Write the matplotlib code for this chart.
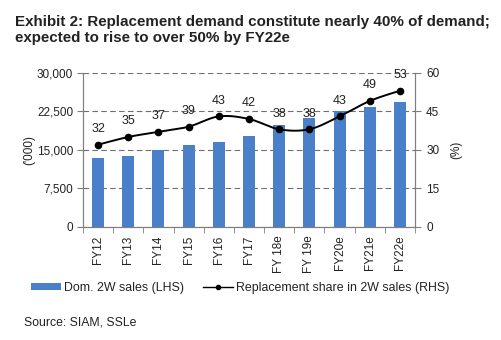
import numpy as np
import matplotlib
matplotlib.use("Agg")
import matplotlib.pyplot as plt
from matplotlib.lines import Line2D
from matplotlib.patches import Patch

plt.rcParams['font.family'] = ['Liberation Sans', 'DejaVu Sans']

categories = ["FY12", "FY13", "FY14", "FY15", "FY16", "FY17",
              "FY 18e", "FY 19e", "FY20e", "FY21e", "FY22e"]
dom_2w_sales = [13450, 13800, 14900, 16000, 16450, 17600,
                19800, 21100, 22500, 23400, 24300]
replacement_share = [32, 35, 37, 39, 43, 42, 38, 38, 43, 49, 53]

left_ticks = [0, 7500, 15000, 22500, 30000]
right_ticks = [0, 15, 30, 45, 60]

BAR_COLOR = "#4a7fca"
AXIS_COLOR = "#7f7f7f"
TEXT_COLOR = "#222222"


def smooth_curve(xs, ys, steps=30):
    """Bezier smoothing through points (spreadsheet-style smoothed line)."""
    xs = np.asarray(xs, float)
    ys = np.asarray(ys, float)
    px = np.concatenate([[xs[0]], xs, [xs[-1]]])
    py = np.concatenate([[ys[0]], ys, [ys[-1]]])
    out_x, out_y = [], []
    t = np.linspace(0, 1, steps)
    for i in range(1, len(px) - 2):
        p0 = np.array([px[i], py[i]])
        p3 = np.array([px[i + 1], py[i + 1]])
        p1 = p0 + (np.array([px[i + 1], py[i + 1]]) - np.array([px[i - 1], py[i - 1]])) / 6
        p2 = p3 - (np.array([px[i + 2], py[i + 2]]) - np.array([px[i], py[i]])) / 6
        b = ((1 - t) ** 3)[:, None] * p0 + (3 * (1 - t) ** 2 * t)[:, None] * p1 \
            + (3 * (1 - t) * t ** 2)[:, None] * p2 + (t ** 3)[:, None] * p3
        out_x.extend(b[:, 0])
        out_y.extend(b[:, 1])
    return np.array(out_x), np.array(out_y)


fig = plt.figure(figsize=(5.02, 3.40), dpi=100)
ax = fig.add_axes([0.1653, 0.3324, 0.6614, 0.4538])
ax2 = ax.twinx()

x = np.arange(len(categories))
ax.bar(x, dom_2w_sales, width=0.4, color=BAR_COLOR, zorder=2)
ax.set_xlim(-0.5, len(categories) - 0.5)
ax.set_ylim(0, 30000)
ax.set_yticks(left_ticks)
ax.set_yticklabels([f"{v:,}" for v in left_ticks])
ax.yaxis.grid(True, color="#6f6f6f", linestyle=(0, (5, 3)), linewidth=0.8, zorder=0)
ax.set_axisbelow(True)

ax.set_xticks(x)
ax.set_xticklabels(categories, rotation=90, va="top", ha="center")
ax.set_xticks(np.arange(-0.5, len(categories)), minor=True)
ax.tick_params(axis="x", which="major", length=0, pad=6, labelsize=8.5, colors=TEXT_COLOR)
ax.tick_params(axis="x", which="minor", length=4, color=AXIS_COLOR, direction="out")
ax.tick_params(axis="y", length=4, color=AXIS_COLOR, labelsize=8.5, labelcolor=TEXT_COLOR, pad=3)
ax.set_ylabel("('000)", fontsize=8.5, color=TEXT_COLOR, labelpad=1)

ax2.set_ylim(0, 60)
ax2.set_yticks(right_ticks)
ax2.tick_params(axis="y", length=4, color=AXIS_COLOR, labelsize=8.5, labelcolor=TEXT_COLOR, pad=4)
ax2.set_ylabel("(%)", fontsize=8.5, color=TEXT_COLOR, rotation=90, labelpad=8)

for a in (ax, ax2):
    a.spines["top"].set_visible(False)
    for s in ("left", "right", "bottom"):
        a.spines[s].set_color(AXIS_COLOR)
        a.spines[s].set_linewidth(0.8)

sx, sy = smooth_curve(x, replacement_share)
ax2.plot(sx, sy, color="black", linewidth=1.4, zorder=3)
ax2.plot(x, replacement_share, linestyle="none", marker="o", markersize=4.5,
         color="black", zorder=4)
for xi, v in zip(x, replacement_share):
    ax2.annotate(f"{v}", (xi, v), xytext=(0, 7), textcoords="offset points",
                 ha="center", va="bottom", fontsize=9, color=TEXT_COLOR)

fig.text(0.03, 0.957,
         "Exhibit 2: Replacement demand constitute nearly 40% of demand;\n"
         "expected to rise to over 50% by FY22e",
         ha="left", va="top", fontsize=10.9, fontweight="bold", color=TEXT_COLOR,
         linespacing=1.25)

handles = [Patch(facecolor=BAR_COLOR, edgecolor="none"),
           Line2D([0], [0], color="black", linewidth=1, marker="o", markersize=3)]
labels = ["Dom. 2W sales (LHS)", "Replacement share in 2W sales (RHS)"]
fig.legend(handles, labels, loc="center", bbox_to_anchor=(0.479, 0.153), ncol=2,
           frameon=False, fontsize=8.9, handlelength=2.4, handleheight=0.5,
           handletextpad=0.3, columnspacing=1.5, labelcolor=TEXT_COLOR)

fig.text(0.048, 0.052, "Source: SIAM, SSLe", ha="left", va="center",
         fontsize=8.8, color=TEXT_COLOR)

fig.savefig("out.png", dpi=100)
